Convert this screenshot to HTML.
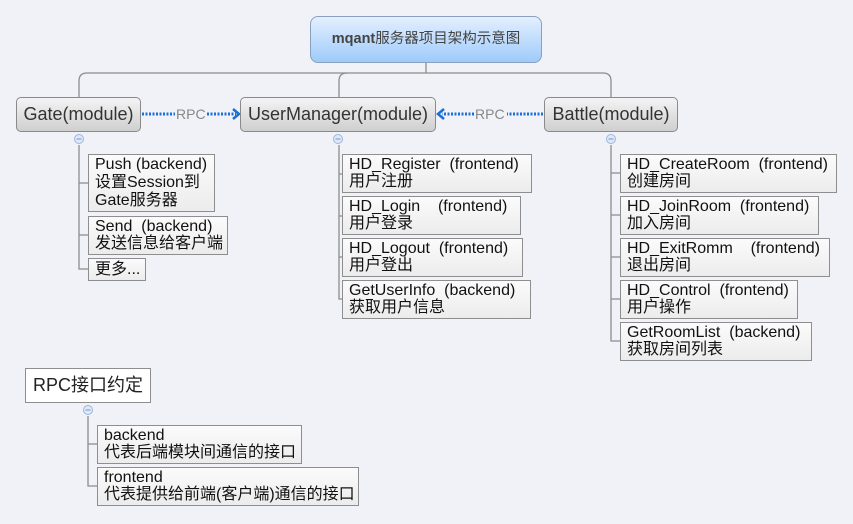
<!DOCTYPE html>
<html><head><meta charset="utf-8"><style>
body{margin:0;width:853px;height:524px;background:#f1f2f7;position:relative;overflow:hidden;font-family:"Liberation Sans","Noto Sans CJK SC",sans-serif;}
.b{position:absolute;box-sizing:border-box;}
.mod{border:1px solid #8a8a8a;border-radius:5px;background:linear-gradient(#f4f4f4,#cfcfcf);font-size:18px;color:#333;text-align:center;line-height:33px;}
.c{border:1px solid #8e8e8e;background:linear-gradient(#fbfbfb,#ececec);font-size:16px;color:#111;line-height:17px;padding:1px 0 0 6px;white-space:pre;overflow:hidden;}
svg{position:absolute;left:0;top:0;}
</style></head><body>
<svg width="853" height="524">
<g stroke="#8c8c8c" stroke-width="1.3" fill="none">
<path d="M426 63V73"/>
<path d="M79 97V81Q79 73 87 73H603Q611 73 611 81V97"/>
<path d="M339 97V81Q339 73 347 73"/>
<path d="M79 145V269H88M79 183H88M79 235H88"/>
<path d="M339 145V299H342M339 174H342M339 216H342M339 257H342"/>
<path d="M611 145V341H620M611 173H620M611 215H620M611 257H620M611 299H620"/>
<path d="M88 416V486H97M88 444H97"/>
</g>
<g fill="#dfe8f7" stroke="#9db5e0" stroke-width="1">
<circle cx="79" cy="139" r="4.5"/><circle cx="338" cy="139" r="4.5"/><circle cx="611" cy="139" r="4.5"/><circle cx="88" cy="410" r="4.5"/>
</g>
<g stroke="#7a93c8" stroke-width="1"><path d="M76.5 139h5M335.5 139h5M608.5 139h5M85.5 410h5"/></g>
<g stroke="#1a6fd6" stroke-width="3" stroke-dasharray="2 1.5" fill="none">
<path d="M142 114H175M207 114H236"/>
<path d="M543 114H507M474 114H442"/>
</g>
<g stroke="#1a6fd6" stroke-width="2.5" fill="none">
<path d="M233 109L239 114L233 119"/>
<path d="M444 109L438 114L444 119"/>
</g>
<g font-family="Liberation Sans,sans-serif" font-size="14" fill="#888"><text x="176" y="119">RPC</text><text x="475" y="119">RPC</text></g>
</svg>
<div class="b" style="left:310px;top:16px;width:232px;height:47px;border:1px solid #8aa0c0;border-radius:8px;background:linear-gradient(#e4efff,#9ecbfa);text-align:center;line-height:45px;font-size:14.5px;color:#444;"><b>mqant</b>服务器项目架构示意图</div>
<div class="b mod" style="left:16px;top:97px;width:125px;height:35px;">Gate(module)</div>
<div class="b mod" style="left:240px;top:97px;width:196px;height:35px;">UserManager(module)</div>
<div class="b mod" style="left:544px;top:97px;width:134px;height:35px;">Battle(module)</div>
<div class="b c" style="left:88px;top:154px;width:127px;height:58px;line-height:18px;">Push (backend)
设置Session到
Gate服务器</div>
<div class="b c" style="left:88px;top:216px;width:140px;height:39px;">Send  (backend)
发送信息给客户端</div>
<div class="b c" style="left:88px;top:258px;width:58px;height:23px;padding-top:2px;">更多...</div>
<div class="b c" style="left:342px;top:154px;width:190px;height:39px;">HD_Register  (frontend)
用户注册</div>
<div class="b c" style="left:342px;top:196px;width:179px;height:39px;">HD_Login    (frontend)
用户登录</div>
<div class="b c" style="left:342px;top:238px;width:181px;height:39px;">HD_Logout  (frontend)
用户登出</div>
<div class="b c" style="left:342px;top:280px;width:189px;height:39px;">GetUserInfo  (backend)
获取用户信息</div>
<div class="b c" style="left:620px;top:154px;width:217px;height:39px;">HD_CreateRoom  (frontend)
创建房间</div>
<div class="b c" style="left:620px;top:196px;width:199px;height:39px;">HD_JoinRoom  (frontend)
加入房间</div>
<div class="b c" style="left:620px;top:238px;width:210px;height:39px;">HD_ExitRomm    (frontend)
退出房间</div>
<div class="b c" style="left:620px;top:280px;width:178px;height:39px;">HD_Control  (frontend)
用户操作</div>
<div class="b c" style="left:620px;top:322px;width:192px;height:39px;">GetRoomList  (backend)
获取房间列表</div>
<div class="b" style="left:25px;top:368px;width:126px;height:35px;border:1px solid #8e8e8e;background:#fff;font-size:18px;line-height:33px;padding-left:7px;color:#222;white-space:nowrap;">RPC接口约定</div>
<div class="b c" style="left:97px;top:425px;width:205px;height:39px;">backend
代表后端模块间通信的接口</div>
<div class="b c" style="left:97px;top:467px;width:262px;height:39px;">frontend
代表提供给前端(客户端)通信的接口</div>
</body></html>
